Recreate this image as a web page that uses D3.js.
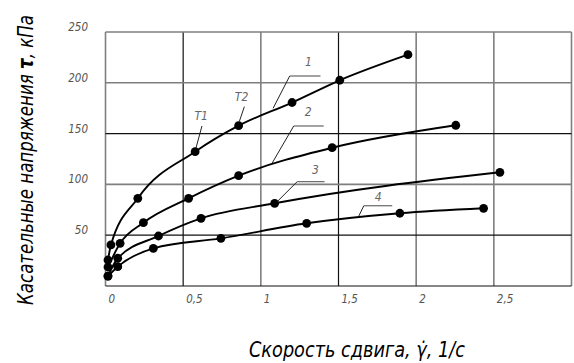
<!DOCTYPE html>
<html><head><meta charset="utf-8">
<script src="https://cdn.jsdelivr.net/npm/d3@7"></script>
<style>
html,body{margin:0;padding:0;background:#fff;}
svg{display:block;}
text{font-family:"Liberation Sans Narrow","DejaVu Sans Condensed","Liberation Sans",sans-serif;font-style:italic;}
</style></head><body>
<svg id="c" width="574" height="363"></svg>
<script>
// ---- data ----
const xTicks = [0, 0.5, 1, 1.5, 2, 2.5, 3];
const xTickLabels = ["0", "0,5", "1", "1,5", "2", "2,5", "3"];
const yTicks = [0, 50, 100, 150, 200, 250];
const yTickLabels = ["", "50", "100", "150", "200", "250"];
const xGridDark = [false, true, false, true, false, false, false];
const yGridDark = [true, true, false, true, false, false];

const series1 = [[0.016,25.6],[0.035,40.4],[0.208,86.3],[0.577,132.2],[0.857,157.8],[1.201,180.6],[1.508,202.5],[1.947,227.7]];
const series2 = [[0.016,18.7],[0.094,42.0],[0.244,62.3],[0.535,86.3],[0.857,108.6],[1.459,136.1],[2.255,158.2]];
const series3 = [[0.016,9.8],[0.079,27.3],[0.341,49.2],[0.615,66.6],[1.089,81.4],[2.539,111.9]];
const series4 = [[0.016,9.8],[0.079,19.0],[0.308,37.1],[0.743,46.9],[1.295,61.7],[1.895,71.6],[2.434,76.5]];
const seriesNames = ["1", "2", "3", "4"];
// leader annotations: anchor on curve, elbow, end of shelf, label position (data units)
const leaders = [
  {name:"1", pts:[[1.079,174.9],[1.186,206.7],[1.384,206.7]], txt:[1.306,216.5]},
  {name:"2", pts:[[1.072,120.8],[1.212,157.5],[1.405,157.5]], txt:[1.305,167.3]},
  {name:"3", pts:[[1.105,83.0],[1.234,102.7],[1.41,102.7]], txt:[1.352,110.2]},
  {name:"4", pts:[[1.631,68.9],[1.663,79.0],[1.846,79.0]], txt:[1.756,83.3]},
  {name:"T1", pts:[[0.582,135.5],[0.621,157.5]], txt:[0.616,163.5]},
  {name:"T2", pts:[[0.861,161.7],[0.894,176.5]], txt:[0.876,182.5]}
];
const xTitle = "Скорость сдвига, γ\u0307, 1/с";
const yTitleA = "Касательные напряжения";
const yTitleB = "τ";
const yTitleC = ", кПа";

// ---- chart ----
const svg = d3.select("#c");
const x = d3.scaleLinear().domain([0, 3]).range([105.5, 571.5]);
const y = d3.scaleLinear().domain([0, 250]).range([286, 32]);
const gray = "#7f7f7f";

// grid
svg.append("g").selectAll("line").data(xTicks).join("line")
  .attr("x1", d => x(d)).attr("x2", d => x(d))
  .attr("y1", y(0)).attr("y2", y(250))
  .attr("stroke", (d,i) => xGridDark[i] ? "#111" : gray)
  .attr("stroke-width", (d,i) => xGridDark[i] ? 1.2 : 1.6);
svg.append("g").selectAll("line").data(yTicks).join("line")
  .attr("y1", d => y(d)).attr("y2", d => y(d))
  .attr("x1", x(0)).attr("x2", x(3))
  .attr("stroke", (d,i) => yGridDark[i] ? "#111" : gray)
  .attr("stroke-width", (d,i) => yGridDark[i] ? 1.2 : 1.6);

// tick labels
svg.append("g").selectAll("text").data(xTicks).join("text")
  .attr("x", d => x(d) + 3).attr("y", 303)
  .attr("font-size", 11.5).attr("fill", "#555")
  .text((d,i) => xTickLabels[i]);
svg.append("g").selectAll("text").data(yTicks).join("text")
  .attr("x", 88).attr("y", d => y(d) - 1)
  .attr("text-anchor", "end")
  .attr("font-size", 11.5).attr("fill", "#555")
  .text((d,i) => yTickLabels[i]);

// curves
const line = d3.line().x(d => x(d[0])).y(d => y(d[1])).curve(d3.curveMonotoneX);
const allSeries = [series1, series2, series3, series4];
svg.append("g").selectAll("path").data(allSeries).join("path")
  .attr("d", line).attr("fill", "none").attr("stroke", "#000").attr("stroke-width", 1.9);
allSeries.forEach(s => {
  svg.append("g").selectAll("circle").data(s).join("circle")
    .attr("cx", d => x(d[0])).attr("cy", d => y(d[1])).attr("r", 4.4).attr("fill", "#000");
});

// leaders
leaders.forEach(l => {
  const p = l.pts;
  svg.append("line").attr("x1", x(p[0][0])).attr("y1", y(p[0][1]))
    .attr("x2", x(p[1][0])).attr("y2", y(p[1][1]))
    .attr("stroke", "#222").attr("stroke-width", 1);
  if (p.length > 2) {
    svg.append("line").attr("x1", x(p[1][0])).attr("y1", y(p[1][1]))
      .attr("x2", x(p[2][0])).attr("y2", y(p[2][1]))
      .attr("stroke", "#666").attr("stroke-width", 1.2);
  }
  svg.append("text").attr("x", x(l.txt[0])).attr("y", y(l.txt[1]))
    .attr("text-anchor", "middle").attr("font-size", 12).attr("fill", "#666")
    .text(l.name);
});

// axis titles
const xt = svg.append("text").attr("x", 249).attr("y", 357)
  .attr("font-size", 22).attr("fill", "#000").text(xTitle);

const yt = svg.append("text")
  .attr("transform", "translate(33,305) rotate(-90)")
  .attr("font-size", 21).attr("fill", "#000");
yt.append("tspan").text(yTitleA + " ");
yt.append("tspan").attr("font-weight", "bold").text(yTitleB);
yt.append("tspan").text(yTitleC);
// fit title lengths
if (yt.node().getComputedTextLength() > 0) yt.attr("textLength", 290).attr("lengthAdjust", "spacingAndGlyphs");
if (xt.node().getComputedTextLength() > 0) xt.attr("textLength", 216).attr("lengthAdjust", "spacingAndGlyphs");
</script>
</body></html>
